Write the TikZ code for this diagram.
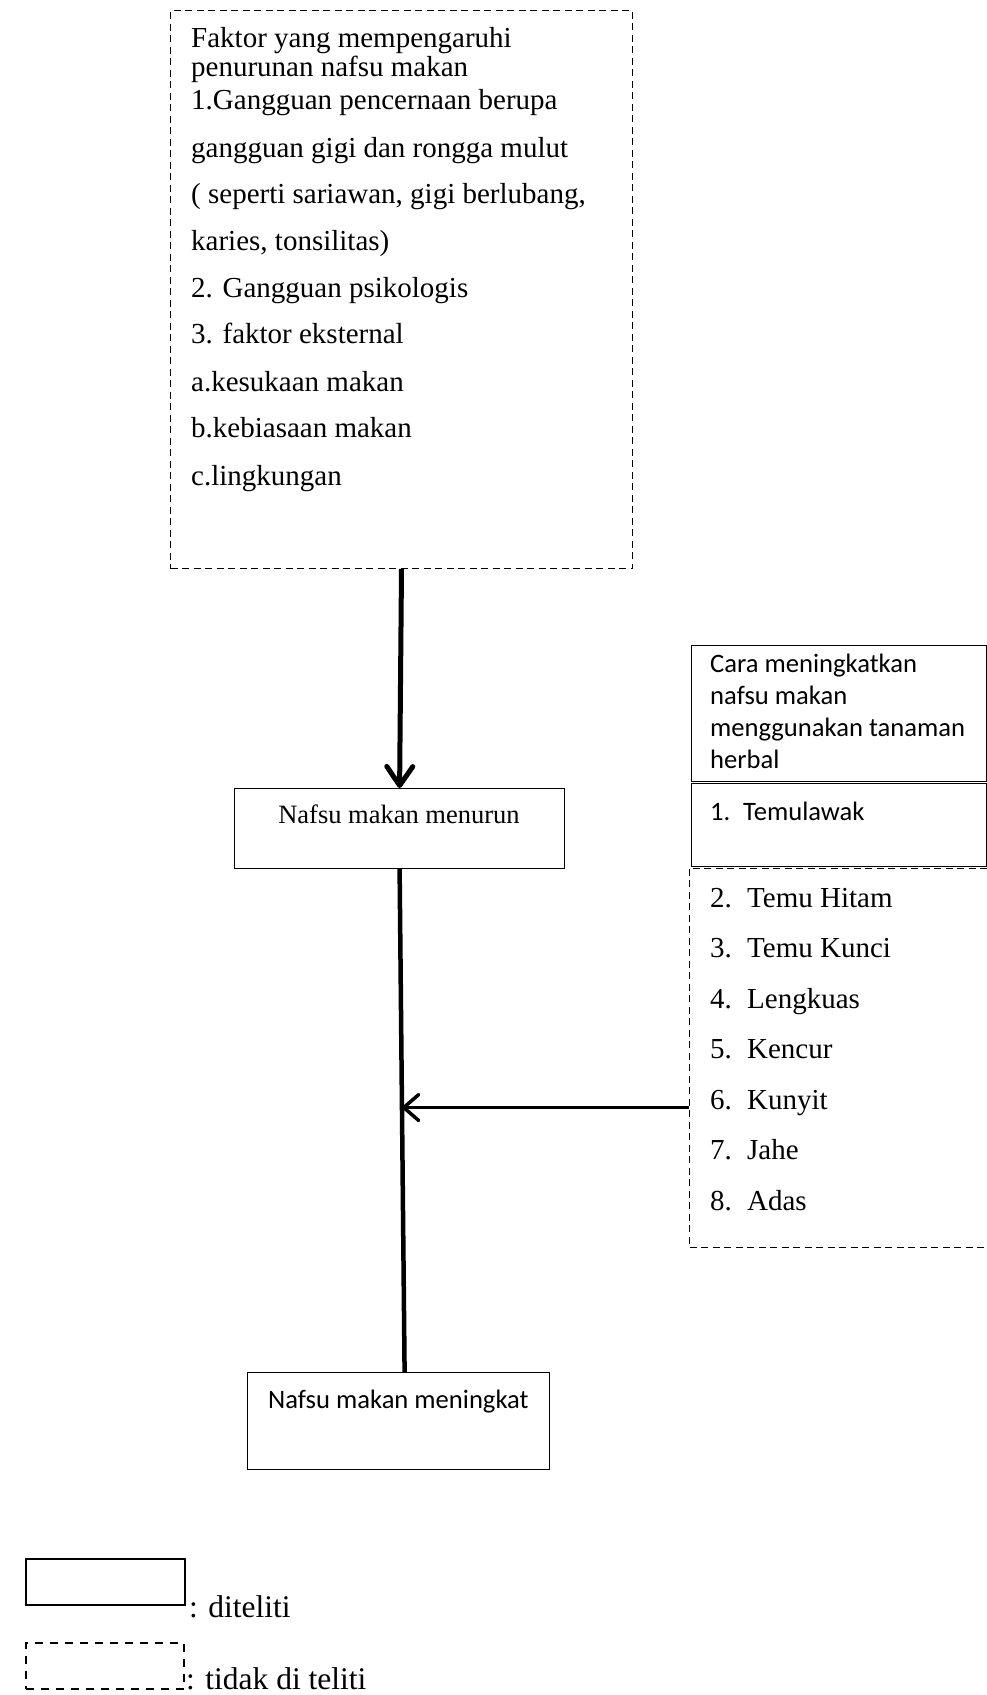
\documentclass[tikz,border=0pt]{standalone}
\usepackage{fontspec}
\setmainfont{Liberation Serif}
\newfontfamily\calfont{Carlito}
\usetikzlibrary{arrows.meta,calc}
\begin{document}
\begin{tikzpicture}[x=1pt,y=-1pt,
  solidbox/.style={draw,line width=1.2pt,inner sep=0pt,anchor=north west},
  dashbox/.style={draw,line width=1pt,dash pattern=on 7pt off 4.5pt,inner sep=0pt,anchor=north west},
  plainbox/.style={draw=none,inner sep=0pt,anchor=north west},
  legsolid/.style={draw,line width=2pt,inner sep=0pt,anchor=north west},
  legdash/.style={draw,line width=2pt,dash pattern=on 8pt off 7pt,inner sep=0pt,anchor=north west},
  txt/.style={anchor=base west,inner sep=0pt,font=\fontsize{29}{29}\selectfont},
  midtxt/.style={anchor=base,inner sep=0pt,font=\fontsize{26.5}{26.5}\selectfont},
  ctxt/.style={anchor=base west,inner sep=0pt,font=\calfont\fontsize{26.6}{26.6}\selectfont},
  legtxt/.style={anchor=base west,inner sep=0pt,font=\fontsize{31.5}{31.5}\selectfont},
  bigarrow/.style={line width=5pt,-{Straight Barb[length=19pt,width=26pt,round]}},
  medarrow/.style={line width=3.5pt,-{Straight Barb[length=15pt,width=26pt,round]}},
  thickline/.style={line width=4.5pt}
]
\useasboundingbox (0,0) rectangle (987,1695);

% boxes
\node[dashbox,minimum width=462pt,minimum height=558pt] (faktor) at (170,10) {};
\node[solidbox,minimum width=330pt,minimum height=80pt] (menurun) at (234,788) {};
\node[solidbox,minimum width=302pt,minimum height=97pt] (meningkat) at (247,1372) {};
\node[solidbox,minimum width=295pt,minimum height=136pt] (cara) at (691,645) {};
\node[solidbox,minimum width=295pt,minimum height=83pt] (temu) at (691,783) {};
\node[plainbox,minimum width=298pt,minimum height=379pt] (herbs) at (689,868) {};
\draw[line width=1pt,dash pattern=on 7pt off 4.5pt]
  (herbs.north east) -- (herbs.north west) -- (herbs.south west) -- (herbs.south east);

% top box text
\foreach \yy/\lbl [count=\i] in {
  47/{Faktor yang mempengaruhi},
  76/{penurunan nafsu makan},
  109/{1.Gangguan pencernaan berupa},
  157/{gangguan gigi dan rongga mulut},
  203/{( seperti sariawan, gigi berlubang,},
  250/{karies, tonsilitas)},
  297/{2. Gangguan psikologis},
  343/{3. faktor eksternal},
  391/{a.kesukaan makan},
  437/{b.kebiasaan makan},
  485/{c.lingkungan}}
  \node[txt] (ft\i) at (191,\yy) {\lbl};

% middle boxes text
\node[midtxt] (menuruntxt) at (399,823) {Nafsu makan menurun};
\node[ctxt] (meningkattxt) at (268,1408) {Nafsu makan meningkat};

% right boxes text
\foreach \yy/\lbl [count=\i] in {
  672/{Cara meningkatkan},
  704/{nafsu makan},
  736/{menggunakan tanaman},
  768/{herbal}}
  \node[ctxt] (ct\i) at (710,\yy) {\lbl};
\node[ctxt] (temutxt) at (710,820) {\makebox[33pt][l]{1.}Temulawak};
\foreach \yy/\num/\lbl [count=\i] in {
  907/2./{Temu Hitam},
  957.5/3./{Temu Kunci},
  1008/4./{Lengkuas},
  1058.5/5./{Kencur},
  1109/6./{Kunyit},
  1159.5/7./{Jahe},
  1210/8./{Adas}}
  \node[txt] (ht\i) at (710,\yy) {\makebox[37pt][l]{\num}\lbl};

% connectors
\draw[bigarrow] (faktor.south) -- (menurun.north);
\coordinate (meningkattop) at ([xshift=6pt]meningkat.north);
\draw[thickline] (menurun.south) -- (meningkattop);
\coordinate (hit) at ($(menurun.south)!0.474!(meningkattop)$);
\draw[medarrow] (herbs.west |- hit) -- (hit);

% legend
\node[legsolid,minimum width=159pt,minimum height=46pt] (legA) at (25,1558) {};
\node[legdash,minimum width=158pt,minimum height=46pt] (legB) at (25,1642) {};
\node[legtxt] (legAtxt) at (189,1617) {: diteliti};
\node[legtxt] (legBtxt) at (186,1689) {: tidak di teliti};
\end{tikzpicture}
\end{document}
